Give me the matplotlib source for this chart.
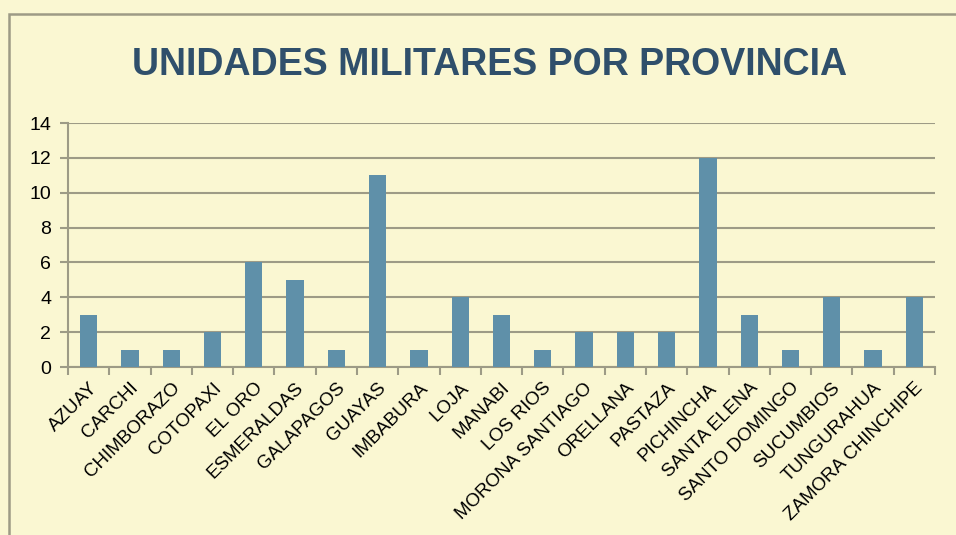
import numpy as np
import matplotlib.pyplot as plt
from matplotlib.patches import Rectangle

# Datos
provincias = ["AZUAY", "CARCHI", "CHIMBORAZO", "COTOPAXI", "EL ORO", "ESMERALDAS",
              "GALAPAGOS", "GUAYAS", "IMBABURA", "LOJA", "MANABI", "LOS RIOS",
              "MORONA SANTIAGO", "ORELLANA", "PASTAZA", "PICHINCHA", "SANTA ELENA",
              "SANTO DOMINGO", "SUCUMBIOS", "TUNGURAHUA", "ZAMORA CHINCHIPE"]
unidades = [3, 1, 1, 2, 6, 5, 1, 11, 1, 4, 3, 1, 2, 2, 2, 12, 3, 1, 4, 1, 4]
y_ticks = [0, 2, 4, 6, 8, 10, 12, 14]

bg = "#faf7d2"
grid_col = "#9d9b86"
bar_col = "#5f90a9"

plt.rcParams['font.family'] = ['Liberation Sans', 'DejaVu Sans']

fig = plt.figure(figsize=(9.56, 5.35), dpi=100)
fig.patch.set_facecolor(bg)

# Marco del grafico
fig.patches.append(Rectangle((9 / 956, -0.1), 1.2, 1 - 14 / 535 + 0.1,
                             transform=fig.transFigure, fill=False,
                             edgecolor=grid_col, linewidth=1.8))

ax = fig.add_axes([68 / 956, 1 - 367 / 535, 867 / 956, 244 / 535])
ax.set_facecolor(bg)

x = np.arange(len(provincias))
ax.bar(x, unidades, width=0.42, color=bar_col, zorder=3)

ax.set_xlim(-0.5, len(provincias) - 0.5)
ax.set_ylim(0, 14)
ax.set_yticks(y_ticks)
ax.yaxis.grid(True, color=grid_col, linewidth=1.5)
ax.set_axisbelow(True)

ax.set_xticks(x)
ax.set_xticklabels(provincias, rotation=45, ha='right', rotation_mode='anchor', fontsize=13.5)
ax.tick_params(axis='x', length=0, pad=9)
ax.set_xticks(np.arange(len(provincias) + 1) - 0.5, minor=True)
ax.tick_params(axis='x', which='minor', length=6, width=1.5, color=grid_col)
ax.tick_params(axis='y', length=6, width=1.5, color=grid_col, labelsize=14, pad=6)

for s in ['top', 'right']:
    ax.spines[s].set_visible(False)
for s in ['left', 'bottom']:
    ax.spines[s].set_color(grid_col)
    ax.spines[s].set_linewidth(1.5)

fig.text(490 / 956, 1 - 65 / 535, "UNIDADES MILITARES POR PROVINCIA",
         ha='center', va='center', fontsize=27, fontweight='bold', color="#2f4f6b")

fig.savefig("out.png", dpi=100, facecolor=bg)
